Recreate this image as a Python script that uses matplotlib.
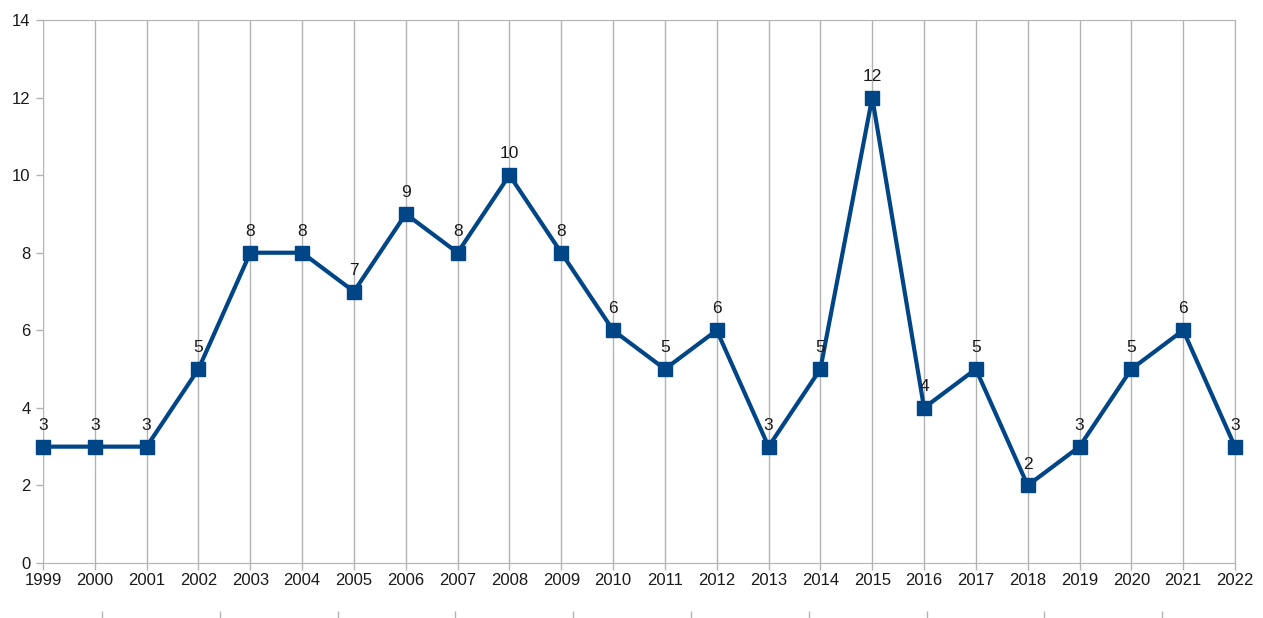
import matplotlib.pyplot as plt
import numpy as np

years = list(range(1999, 2023))
counts = [3, 3, 3, 5, 8, 8, 7, 9, 8, 10, 8, 6, 5, 6, 3, 5, 12, 4, 5, 2, 3, 5, 6, 3]
y_ticks = [0, 2, 4, 6, 8, 10, 12, 14]

plt.rcParams['font.family'] = ['Liberation Sans', 'DejaVu Sans']
grid_col = '#b3b3b3'

fig = plt.figure(figsize=(12.63, 6.18), dpi=100)
ax = fig.add_axes([43 / 1263, 1 - 563 / 618, 1192 / 1263, 543 / 618])

ax.plot(years, counts, color='#004586', lw=3, marker='s', ms=10, zorder=3, clip_on=False)
for x, y in zip(years, counts):
    ax.annotate(str(y), (x, y), xytext=(0, 10), textcoords='offset points',
                ha='center', va='bottom', fontsize=12.5, color='#1a1a1a')

ax.set_xlim(years[0], years[-1])
ax.set_ylim(0, 14)
ax.set_xticks(years)
ax.set_yticks(y_ticks)
ax.tick_params(axis='both', labelsize=12, colors=grid_col, labelcolor='#1a1a1a', length=5, width=1)
ax.tick_params(axis='x', pad=2)
ax.tick_params(axis='y', pad=4)
ax.grid(axis='x', color=grid_col, lw=1)
ax.spines['left'].set_visible(False)
for s in ['top', 'bottom', 'right']:
    ax.spines[s].set_color(grid_col)

# stray tick marks under the labels
sec = ax.secondary_xaxis(-0.088)
sec.set_xticks(years[0] + 1.14 + 2.273 * np.arange(10))
sec.set_xticklabels([])
sec.spines['bottom'].set_visible(False)
sec.tick_params(color=grid_col, length=8, width=1, direction='out')

fig.savefig('out.png', dpi=100)
